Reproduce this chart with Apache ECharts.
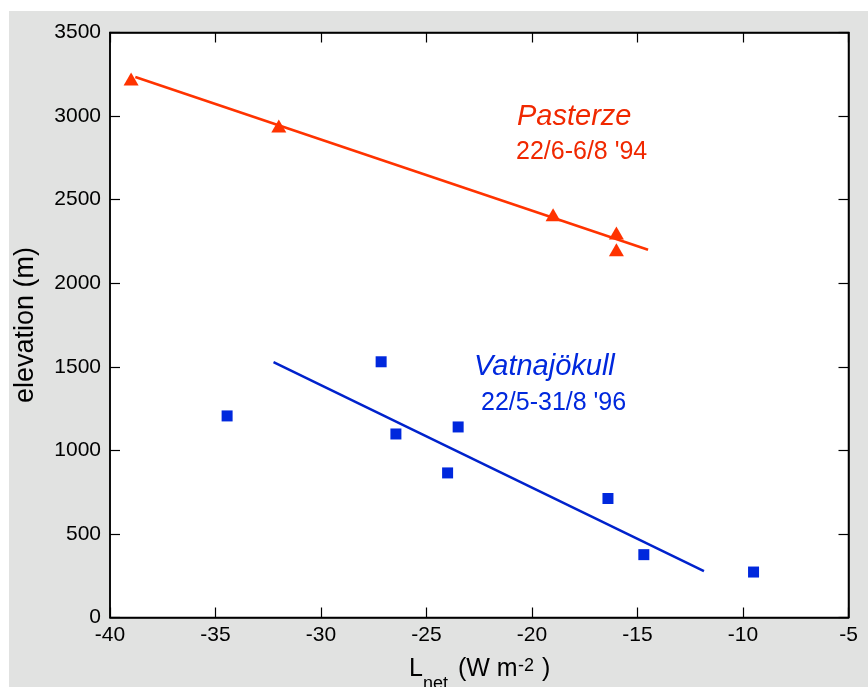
<!DOCTYPE html>
<html>
<head>
<meta charset="utf-8">
<script src="https://cdn.jsdelivr.net/npm/echarts@6/dist/echarts.min.js"></script>
<style>html,body{margin:0;padding:0;background:#fff;}#c{width:868px;height:687px;}</style>
</head>
<body>
<div id="c"></div>
<script>
var xTicks = [-40, -35, -30, -25, -20, -15, -10, -5];
var yTicks = [0, 500, 1000, 1500, 2000, 2500, 3000, 3500];
var pasterzeX = [-39.0, -32.0, -19.0, -16.0, -16.0];
var pasterzeY = [3222, 2940, 2410, 2300, 2200];
var pasterzeFitX = [-38.8, -14.5];
var pasterzeFitY = [3234, 2200];
var vatnaX = [-34.45, -27.15, -26.45, -23.5, -24.0, -16.4, -14.7, -9.5];
var vatnaY = [1206, 1530, 1098, 1140, 865, 712, 376, 272];
var vatnaFitX = [-32.25, -11.85];
var vatnaFitY = [1528, 278];

function zip(a, b) { return a.map(function (v, i) { return [v, b[i]]; }); }

var FONT = 'Liberation Sans, Arial, Helvetica, sans-serif';
var RED = '#ff3300';
var TRED = '#f02800';
var BLUE = '#0028dd';

function txt(x, y, s, size, color, italic) {
  return { type: 'text', x: x, y: y, style: { text: s, fill: color,
    font: (italic ? 'italic ' : '') + size + 'px ' + FONT, textVerticalAlign: 'middle' } };
}

var chart = echarts.init(document.getElementById('c'), null, { renderer: 'canvas' });
var axisCommon = {
  axisLine: { show: true, onZero: false, lineStyle: { color: '#000', width: 1.5 } },
  axisTick: { show: true, inside: true, length: 10, lineStyle: { color: '#000', width: 1.2 } },
  splitLine: { show: false }
};
chart.setOption({
  backgroundColor: '#fff',
  animation: false,
  graphic: [
    { type: 'rect', z: -100, shape: { x: 9, y: 11, width: 859, height: 676 }, style: { fill: '#e1e2e1' } },
    txt(517, 117, 'Pasterze', 29, TRED, true),
    txt(516, 152, "22/6-6/8 '94", 25, TRED, false),
    txt(474, 367, 'Vatnajökull', 29, BLUE, true),
    txt(481, 403, "22/5-31/8 '96", 25, BLUE, false),
    txt(409, 669.5, 'L', 25, '#000', false),
    txt(423, 684, 'net', 18, '#000', false),
    txt(458, 669.5, '(W m', 25, '#000', false),
    txt(518, 666, '-2', 18, '#000', false),
    txt(542, 669.5, ')', 25, '#000', false)
  ],
  grid: { left: 110, top: 32.5, right: 19.5, bottom: 69.5, show: true, backgroundColor: '#fff', borderColor: '#000', borderWidth: 1.5 },
  xAxis: [
    Object.assign({ type: 'value', min: -40, max: -5, interval: 5, position: 'bottom',
      axisLabel: { color: '#000', fontSize: 21, fontFamily: FONT, margin: 7,
        formatter: function (v) { return xTicks.indexOf(v) >= 0 ? String(v) : ''; } } }, axisCommon),
    Object.assign({ type: 'value', min: -40, max: -5, interval: 5, position: 'top', axisLabel: { show: false } }, axisCommon)
  ],
  yAxis: [
    Object.assign({ type: 'value', min: 0, max: 3500, interval: 500, position: 'left',
      name: 'elevation (m)', nameLocation: 'middle', nameGap: 71, nameRotate: 90,
      nameTextStyle: { color: '#000', fontSize: 27, fontFamily: FONT },
      axisLabel: { color: '#000', fontSize: 21, fontFamily: FONT, margin: 9,
        formatter: function (v) { return yTicks.indexOf(v) >= 0 ? String(v) : ''; } } }, axisCommon),
    Object.assign({ type: 'value', min: 0, max: 3500, interval: 500, position: 'right', axisLabel: { show: false } }, axisCommon)
  ],
  series: [
    { type: 'line', data: zip(pasterzeFitX, pasterzeFitY), showSymbol: false, symbol: 'none',
      lineStyle: { color: RED, width: 2.5 }, z: 2 },
    { type: 'scatter', data: zip(pasterzeX, pasterzeY), symbol: 'triangle', symbolSize: [15, 13],
      itemStyle: { color: RED, opacity: 1 }, z: 3 },
    { type: 'line', data: zip(vatnaFitX, vatnaFitY), showSymbol: false, symbol: 'none',
      lineStyle: { color: '#0022cc', width: 2.5 }, z: 2 },
    { type: 'scatter', data: zip(vatnaX, vatnaY), symbol: 'rect', symbolSize: 11,
      itemStyle: { color: BLUE, opacity: 1 }, z: 3 }
  ]
});
</script>
</body>
</html>
